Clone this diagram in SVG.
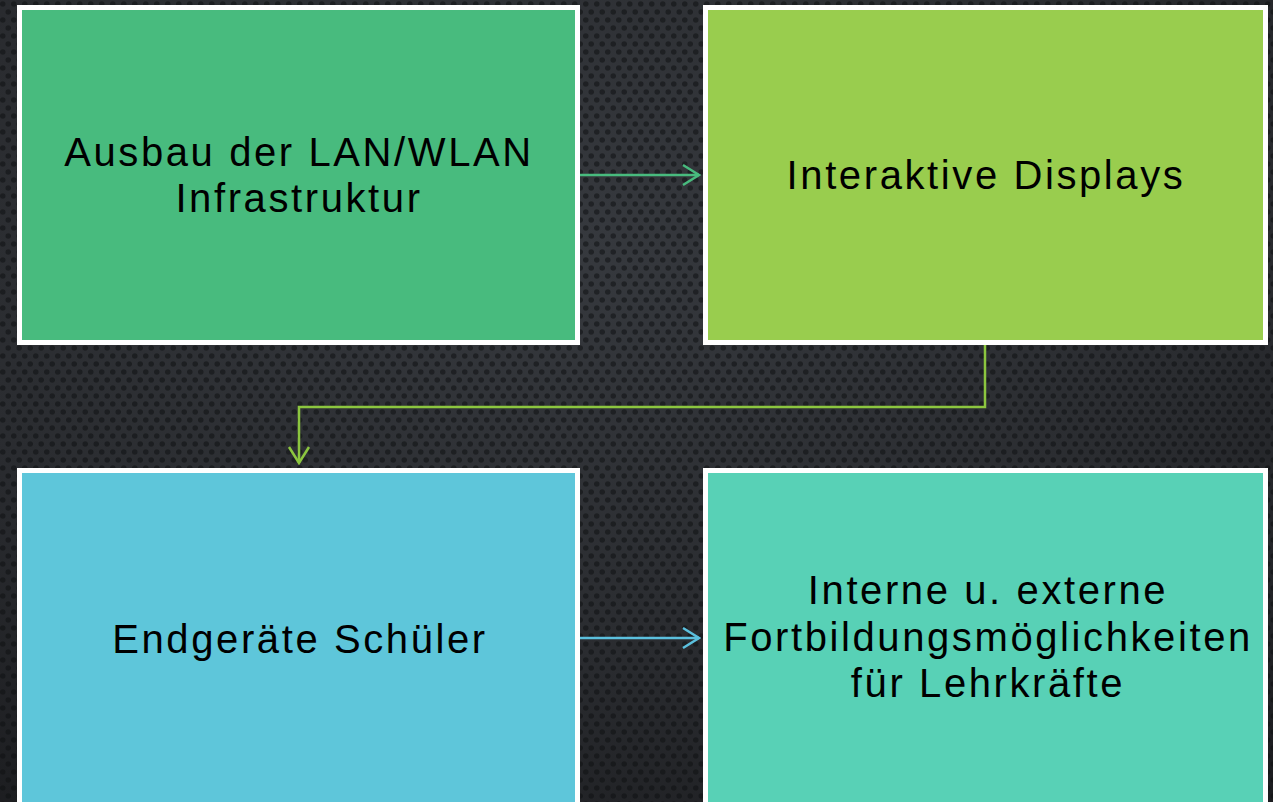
<svg xmlns="http://www.w3.org/2000/svg" width="1273" height="802" viewBox="0 0 1273 802">
  <defs>
    <radialGradient id="bgGrad" cx="0.45" cy="0.3" r="0.85">
      <stop offset="0" stop-color="#36393e"/>
      <stop offset="0.6" stop-color="#2a2c30"/>
      <stop offset="1" stop-color="#1c1d20"/>
    </radialGradient>
    <pattern id="dots" x="0" y="0" width="11" height="16" patternUnits="userSpaceOnUse">
      <circle cx="2.75" cy="4" r="2.8" fill="#0f1012" fill-opacity="0.55"/>
      <circle cx="8.25" cy="12" r="2.8" fill="#0f1012" fill-opacity="0.55"/>
    </pattern>
    <marker id="arrow-green" viewBox="0 0 20 24" refX="18" refY="12" markerWidth="20" markerHeight="24" markerUnits="userSpaceOnUse" orient="auto">
      <path d="M2,2 L18,12 L2,22" fill="none" stroke="#48bb7e" stroke-width="2.5"/>
    </marker>
    <marker id="arrow-lime" viewBox="0 0 20 24" refX="18" refY="12" markerWidth="20" markerHeight="24" markerUnits="userSpaceOnUse" orient="auto">
      <path d="M2,2 L18,12 L2,22" fill="none" stroke="#8cc63f" stroke-width="2.5"/>
    </marker>
    <marker id="arrow-blue" viewBox="0 0 20 24" refX="18" refY="12" markerWidth="20" markerHeight="24" markerUnits="userSpaceOnUse" orient="auto">
      <path d="M2,2 L18,12 L2,22" fill="none" stroke="#5bc0de" stroke-width="2.5"/>
    </marker>
  </defs>
  <style>
    .box { stroke: #ffffff; stroke-width: 5; }
    .label { font-family: "Century Gothic", "Liberation Sans", Arial, sans-serif; font-size: 40px; letter-spacing: 2.6px; fill: #000000; text-anchor: middle; }
    .conn { fill: none; stroke-width: 2.5; }
  </style>

  <rect x="0" y="0" width="1273" height="802" fill="url(#bgGrad)"/>
  <rect x="0" y="0" width="1273" height="802" fill="url(#dots)"/>

  <g id="connectors">
    <path class="conn" d="M580,175 L699,175" stroke="#48bb7e" marker-end="url(#arrow-green)"/>
    <path class="conn" d="M985,345 L985,407 L299,407 L299,463" stroke="#8cc63f" marker-end="url(#arrow-lime)"/>
    <path class="conn" d="M580,638 L699,638" stroke="#5bc0de" marker-end="url(#arrow-blue)"/>
  </g>

  <g id="node-lan">
    <rect class="box" x="19.5" y="7.5" width="558" height="335" fill="#48bb7e"/>
    <text class="label" x="299" y="166">Ausbau der LAN/WLAN</text>
    <text class="label" x="299" y="212">Infrastruktur</text>
  </g>

  <g id="node-displays">
    <rect class="box" x="705.5" y="7.5" width="560" height="335" fill="#99cd4e"/>
    <text class="label" x="986" y="189">Interaktive Displays</text>
  </g>

  <g id="node-endgeraete">
    <rect class="box" x="19.5" y="470.5" width="558" height="400" fill="#5ec6da"/>
    <text class="label" x="300" y="653">Endgeräte Schüler</text>
  </g>

  <g id="node-fortbildung">
    <rect class="box" x="705.5" y="470.5" width="560" height="400" fill="#58d1b6"/>
    <text class="label" x="988" y="604">Interne u. externe</text>
    <text class="label" x="988" y="651">Fortbildungsmöglichkeiten</text>
    <text class="label" x="988" y="697">für Lehrkräfte</text>
  </g>
</svg>
